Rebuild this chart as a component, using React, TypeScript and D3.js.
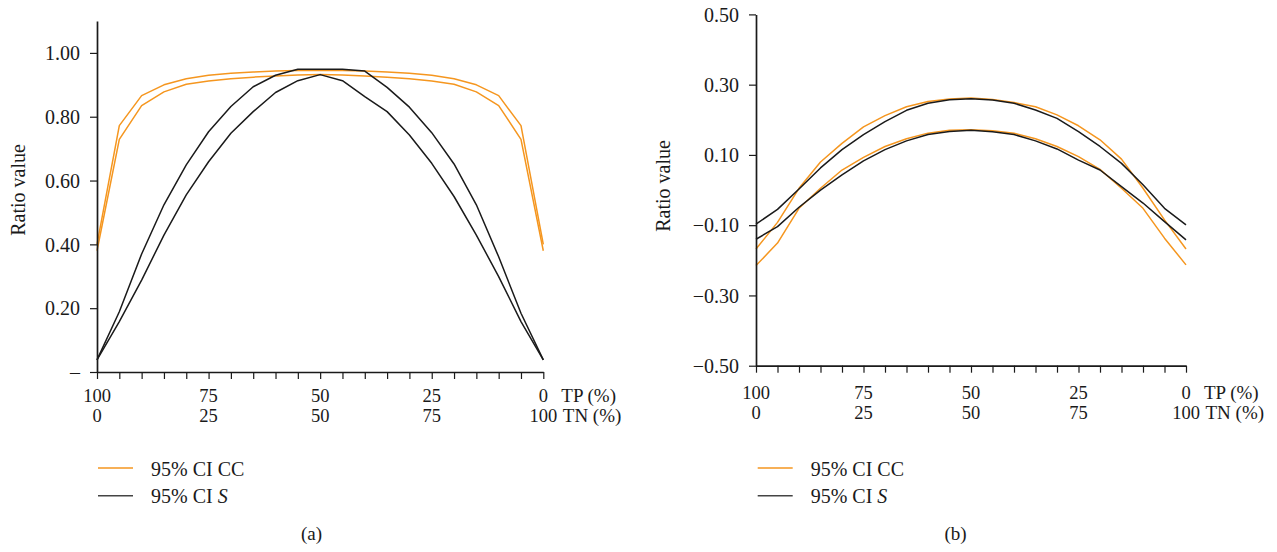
import React, { useEffect, useRef } from "react";
import * as d3 from "d3";

// TP (%) positions, every 5%
const tpValues = [100, 95, 90, 85, 80, 75, 70, 65, 60, 55, 50, 45, 40, 35, 30, 25, 20, 15, 10, 5, 0];
const tpLabels = [100, 75, 50, 25, 0];
const tnLabels = [0, 25, 50, 75, 100];

// Panel (a)
const aCCUpper = [0.40, 0.772, 0.866, 0.90, 0.919, 0.93, 0.936, 0.94, 0.943, 0.945, 0.946, 0.945, 0.943, 0.94, 0.936, 0.93, 0.919, 0.90, 0.866, 0.772, 0.40];
const aCCLower = [0.38, 0.729, 0.835, 0.878, 0.902, 0.912, 0.919, 0.924, 0.928, 0.931, 0.932, 0.931, 0.928, 0.924, 0.919, 0.912, 0.902, 0.878, 0.835, 0.729, 0.38];
const aSUpper = [0.038, 0.189, 0.37, 0.524, 0.649, 0.753, 0.832, 0.894, 0.93, 0.949, 0.949, 0.949, 0.943, 0.892, 0.83, 0.75, 0.652, 0.524, 0.361, 0.184, 0.038];
const aSLower = [0.038, 0.158, 0.288, 0.429, 0.555, 0.659, 0.748, 0.816, 0.876, 0.913, 0.932, 0.913, 0.863, 0.816, 0.743, 0.654, 0.55, 0.429, 0.299, 0.158, 0.038];
const aYTicks = [0, 0.2, 0.4, 0.6, 0.8, 1.0];

// Panel (b)
const bCCUpper = [-0.168, -0.092, 0.005, 0.08, 0.133, 0.18, 0.212, 0.237, 0.252, 0.259, 0.262, 0.258, 0.249, 0.237, 0.214, 0.183, 0.143, 0.088, 0.005, -0.085, -0.168];
const bCCLower = [-0.215, -0.151, -0.052, 0.005, 0.057, 0.093, 0.124, 0.146, 0.162, 0.17, 0.172, 0.169, 0.162, 0.146, 0.124, 0.095, 0.059, 0.005, -0.052, -0.137, -0.213];
const bSUpper = [-0.097, -0.055, 0.003, 0.063, 0.115, 0.158, 0.195, 0.227, 0.247, 0.257, 0.26, 0.256, 0.247, 0.228, 0.204, 0.166, 0.124, 0.076, 0.015, -0.052, -0.099];
const bSLower = [-0.14, -0.104, -0.049, 0.0, 0.043, 0.083, 0.115, 0.14, 0.158, 0.167, 0.17, 0.166, 0.158, 0.14, 0.117, 0.085, 0.057, 0.01, -0.037, -0.09, -0.142];
const bYTicks = [-0.5, -0.3, -0.1, 0.1, 0.3, 0.5];

const ORANGE = "#f5961f";
const BLACK = "#1a1a1a";
const FONT = "'Liberation Serif', 'Times New Roman', serif";
const FS = 20;
const FSX = 18.5;

type Panel = {
  x0: number; x1: number; yBottom: number; yTop: number;
  yDomain: [number, number];
  yTicks: number[];
  fmt: (v: number) => string;
  cc: [number[], number[]];
  s: [number[], number[]];
  row1: number; row2: number;
  ylabelX: number; ylabelY: number;
  legendX: number; caption: string; captionX: number;
};

const panels: Panel[] = [
  {
    x0: 97, x1: 543.3, yBottom: 372, yTop: 21, yDomain: [0, 1.1], yTicks: aYTicks,
    fmt: (v) => (v === 0 ? "–" : v.toFixed(2)),
    cc: [aCCUpper, aCCLower], s: [aSUpper, aSLower],
    row1: 402, row2: 421.5, ylabelX: 25, ylabelY: 190,
    legendX: 98, caption: "(a)", captionX: 311.5,
  },
  {
    x0: 756, x1: 1186, yBottom: 365.7, yTop: 14.4, yDomain: [-0.5, 0.5], yTicks: bYTicks,
    fmt: (v) => (v < 0 ? "\u2212" + Math.abs(v).toFixed(2) : v.toFixed(2)),
    cc: [bCCUpper, bCCLower], s: [bSUpper, bSLower],
    row1: 399, row2: 418.5, ylabelX: 670, ylabelY: 186,
    legendX: 757.7, caption: "(b)", captionX: 955.5,
  },
];

export default function App() {
  const ref = useRef<SVGSVGElement | null>(null);

  useEffect(() => {
    const svg = d3.select(ref.current);
    svg.selectAll("*").remove();

    panels.forEach((p) => {
      const x = d3.scaleLinear().domain([100, 0]).range([p.x0, p.x1]);
      const y = d3.scaleLinear().domain(p.yDomain).range([p.yBottom, p.yTop]);
      const g = svg.append("g");

      // lines
      const line = d3.line<number>().x((_, i) => x(tpValues[i])).y((d) => y(d));
      const series: { data: number[]; color: string }[] = [
        { data: p.cc[0], color: ORANGE },
        { data: p.cc[1], color: ORANGE },
        { data: p.s[0], color: BLACK },
        { data: p.s[1], color: BLACK },
      ];
      series.forEach((s) => {
        g.append("path")
          .attr("d", line(s.data) as string)
          .attr("fill", "none")
          .attr("stroke", s.color)
          .attr("stroke-width", 1.5)
          .attr("stroke-linejoin", "round");
      });

      // y axis
      const ya = g.append("g").attr("transform", `translate(${p.x0},0)`)
        .call(d3.axisLeft(y).tickValues(p.yTicks).tickFormat((v) => p.fmt(v as number)).tickSize(7).tickSizeOuter(0).tickPadding(10));
      ya.select(".domain").attr("stroke", BLACK).attr("stroke-width", 1.7);
      ya.selectAll(".tick line").attr("stroke", BLACK).attr("stroke-width", 1.2);
      ya.selectAll("text").attr("font-family", FONT).attr("font-size", FS).attr("fill", "#1a1a1a").attr("dy", "0.34em");

      // x axis
      const xa = g.append("g").attr("transform", `translate(0,${p.yBottom})`)
        .call(d3.axisBottom(x).tickValues(tpValues).tickFormat(() => "").tickSize(7).tickSizeOuter(0));
      xa.select(".domain").attr("stroke", BLACK).attr("stroke-width", 1.7);
      xa.selectAll(".tick line").attr("stroke", BLACK).attr("stroke-width", 1.2);

      const t = g.append("g").attr("font-family", FONT).attr("font-size", FSX).attr("fill", "#1a1a1a");
      tpLabels.forEach((v) => {
        t.append("text").attr("x", x(v)).attr("y", p.row1).attr("text-anchor", "middle").text(String(v));
      });
      tnLabels.forEach((v, i) => {
        t.append("text").attr("x", x(tpLabels[i])).attr("y", p.row2).attr("text-anchor", "middle").text(String(v));
      });
      t.append("text").attr("x", p.x1 + 18).attr("y", p.row1).attr("font-size", 19).text("TP (%)");
      t.append("text").attr("x", p.x1 + 19.5).attr("y", p.row2).attr("font-size", 19).text("TN (%)");

      // y label
      t.append("text")
        .attr("transform", `translate(${p.ylabelX},${p.ylabelY}) rotate(-90)`)
        .attr("text-anchor", "middle")
        .attr("font-size", FS)
        .text("Ratio value");

      // legend
      const lg = g.append("g");
      lg.append("line").attr("x1", p.legendX).attr("x2", p.legendX + 35).attr("y1", 468).attr("y2", 468)
        .attr("stroke", ORANGE).attr("stroke-width", 1.5);
      lg.append("line").attr("x1", p.legendX).attr("x2", p.legendX + 35).attr("y1", 495.7).attr("y2", 495.7)
        .attr("stroke", "#444").attr("stroke-width", 1.5);
      lg.append("text").attr("x", p.legendX + 53).attr("y", 476).attr("font-family", FONT).attr("font-size", FS)
        .attr("fill", "#1a1a1a").text("95% CI CC");
      const t2 = lg.append("text").attr("x", p.legendX + 53).attr("y", 502.7).attr("font-family", FONT).attr("font-size", FS)
        .attr("fill", "#1a1a1a");
      t2.append("tspan").text("95% CI ");
      t2.append("tspan").attr("font-style", "italic").text("S");

      // caption
      g.append("text").attr("x", p.captionX).attr("y", 540).attr("text-anchor", "middle")
        .attr("font-family", FONT).attr("font-size", FS - 1).attr("fill", "#1a1a1a").text(p.caption);
    });
  }, []);

  return (
    <svg
      ref={ref}
      width={1277}
      height={552}
      style={{ position: "absolute", left: 0, top: 0, background: "#fff" }}
    />
  );
}
